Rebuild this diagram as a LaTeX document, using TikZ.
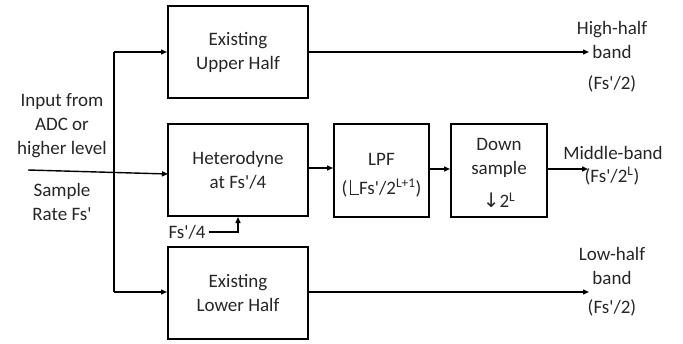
\documentclass[tikz,border=0pt]{standalone}
\usepackage{fontspec}
\newfontfamily\carl{Carlito}
\newfontfamily\djv{DejaVu Sans}
\usetikzlibrary{arrows.meta}
\begin{document}
\begin{tikzpicture}[x=1pt,y=-1pt,
  blk/.style={draw,line width=2pt,minimum width=#1,minimum height=92pt,inner sep=0pt,align=center,font=\carl\fontsize{19}{24}\selectfont},
  lbl/.style={inner sep=0pt,align=center,text=black!85,font=\carl\fontsize{19}{24}\selectfont},
  conn/.style={line width=1.4pt,-{Triangle[length=6pt,width=5pt]}},
  plain/.style={line width=1.4pt}]
\useasboundingbox (0,0) rectangle (683,343);
\node[blk=140pt,text=black!85] (up) at (238,52) {Existing\\Upper Half};
\node[blk=140pt,text=black!85] (het) at (238,170) {Heterodyne\\at Fs'/4};
\node[blk=140pt,text=black!85] (low) at (238,293) {Existing\\Lower Half};
\node[blk=95pt, minimum height=93pt] (lpf) at (381.5,170.5) {};
\node[lbl] (lpft) at (381.5,159) {LPF};
\node[lbl] (lpfb) at (381.5,188) {(\hspace{2.5pt}\rule[-1pt]{1.1pt}{15pt}\rule[-1pt]{8pt}{1.1pt}Fs'/2\textsuperscript{L+1})};
\node[blk=96pt, minimum height=93pt] (ds) at (499,170.5) {};
\node[lbl] (dst) at (499,157.5) {Down\\sample};
\node[lbl] (dsb) at (499,200) {{\djv\fontsize{20}{24}\selectfont ↓}2\textsuperscript{L}};
% input labels
\node[lbl] (inlbl) at (62,126) {Input from\\ADC or\\higher level};
\node[lbl] (srlbl) at (62,201.5) {Sample\\Rate Fs'};
\coordinate (inS) at (28,170);
\coordinate (inE) at (168,174);
\coordinate (jt) at (114,52);
\coordinate (jb) at (114,292);
% outputs
\node[lbl] (hh) at (612,40) {High-half\\band};
\node[lbl] (hhf) at (612,84) {(Fs'/2)};
\node[lbl] (mb) at (613,153) {Middle-band};
\node[lbl] (mbf) at (612,176) {(Fs'/2\textsuperscript{L})};
\node[lbl] (lh) at (612,266) {Low-half\\band};
\node[lbl] (lhf) at (612,308) {(Fs'/2)};
\coordinate (oh) at (589,52);
\coordinate (om) at (588,169);
\coordinate (ol) at (589,292);
\node[lbl] (fs4) at (187,232) {Fs'/4};
% connectors
\draw[conn] (inS) -- (inE);
\draw[plain] (jt) -- (jb);
\draw[conn] (jt) -- (up.west |- jt);
\draw[conn] (jb) -- (low.west |- jb);
\draw[conn] (het.east |- 0,168) -- (lpf.west |- 0,168);
\draw[conn] (lpf.east |- 0,169) -- (ds.west |- 0,169);
\draw[conn] (up.east |- oh) -- (oh);
\draw[conn] (ds.east |- om) -- (om);
\draw[conn] (low.east |- ol) -- (ol);
\draw[conn] ([xshift=3pt]fs4.east) -| (het.south);
\end{tikzpicture}
\end{document}
